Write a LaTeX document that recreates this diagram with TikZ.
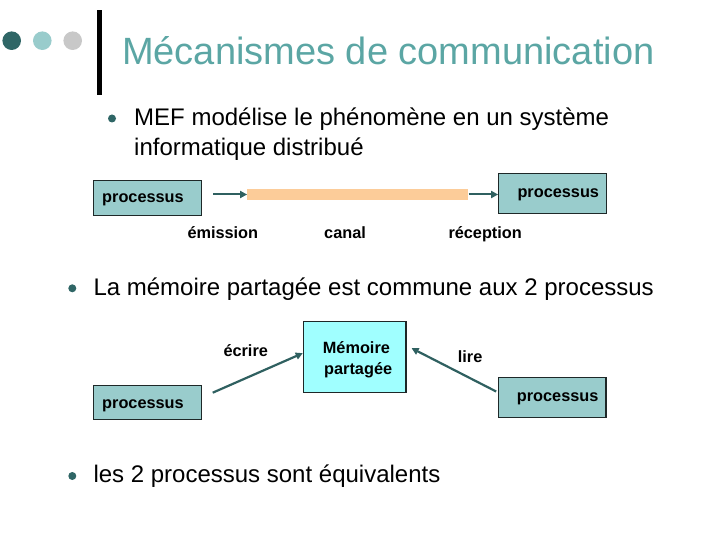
\documentclass[tikz,border=0pt]{standalone}
\usepackage{fontspec}
\setmainfont{Liberation Sans}
\usetikzlibrary{arrows.meta}
\definecolor{titlecol}{RGB}{91,166,164}
\definecolor{darkteal}{RGB}{47,102,102}
\definecolor{lightteal}{RGB}{153,204,204}
\definecolor{dotgray}{RGB}{200,200,200}
\definecolor{boxfill}{RGB}{153,204,204}
\definecolor{memfill}{RGB}{160,255,255}
\definecolor{canalcol}{RGB}{252,204,153}
\definecolor{arrcol}{RGB}{47,96,96}
\definecolor{boxline}{RGB}{30,40,40}
\tikzset{
  pbox/.style={draw=boxline, line width=1.1bp, fill=boxfill, inner sep=0pt},
  mbox/.style={draw=boxline, line width=1.1bp, fill=memfill, inner sep=0pt},
  lbl/.style={anchor=base west, inner sep=0pt, font=\fontsize{16.3bp}{19bp}\selectfont\bfseries},
  btxt/.style={anchor=base west, inner sep=0pt, font=\fontsize{24bp}{29bp}\selectfont},
  bdot/.style={circle, fill=darkteal, inner sep=0pt, minimum size=8bp},
  arr/.style={draw=arrcol, line width=2.2bp, -{Triangle[length=7bp,width=7bp]}},
}
\begin{document}
\begin{tikzpicture}[x=1bp,y=-1bp]
\useasboundingbox (0,0) rectangle (720,540);
% header decoration
\node[circle, fill=darkteal, inner sep=0pt, minimum size=18.6bp] (c1) at (11.7,40.7) {};
\node[circle, fill=lightteal, inner sep=0pt, minimum size=18.6bp] (c2) at (42.3,40.7) {};
\node[circle, fill=dotgray, inner sep=0pt, minimum size=18.6bp] (c3) at (72.7,40.7) {};
\fill[black] (97.3,10) rectangle (101.5,95);
\node[anchor=base west, inner sep=0pt, text=titlecol, font=\fontsize{38bp}{44bp}\selectfont] (title) at (122,65) {Mécanismes de communication};
% bullet 1
\node[bdot] (b1) at (112,118.5) {};
\node[btxt] (t1a) at (134,126) {MEF modélise le phénomène en un système};
\node[btxt] (t1b) at (134,155.5) {informatique distribué};
% diagram 1
\node[pbox, minimum width=108.4bp, minimum height=35bp] (p1) at (147.5,198.2) {};
\node[lbl] (p1t) at (102,203) {processus};
\node[fill=canalcol, inner sep=0pt, minimum width=221bp, minimum height=11bp] (canal) at (357.8,194.5) {};
\node[pbox, minimum width=108bp, minimum height=40bp] (p2) at (552.7,193.3) {};
\node[lbl] (p2t) at (517.3,198) {processus};
\coordinate (a1s) at (213.3,194.5);
\draw[arr, line width=2bp] (a1s) -- (canal.west);
\draw[arr, line width=2bp] (canal.east) -- (canal.east -| p2.west);
\node[lbl] (em) at (187.3,238.3) {émission};
\node[lbl] (ca) at (324,238.3) {canal};
\node[lbl] (re) at (448.3,238.3) {réception};
% bullet 2
\node[bdot] (b2) at (72.3,288.3) {};
\node[btxt] (t2) at (93.3,295) {La mémoire partagée est commune aux 2 processus};
% diagram 2
\node[mbox, minimum width=102.7bp, minimum height=71bp] (mem) at (354.65,357.2) {};
\node[lbl] (memt1) at (322.7,353.3) {Mémoire};
\node[lbl] (memt2) at (324,374.3) {partagée};
\node[pbox, minimum width=108.4bp, minimum height=33.6bp] (p3) at (147.5,402.5) {};
\node[lbl] (p3t) at (102,408) {processus};
\node[pbox, minimum width=107.7bp, minimum height=39.6bp] (p4) at (552.15,397.5) {};
\node[lbl] (p4t) at (516.7,401.7) {processus};
\coordinate (a3s) at (212.7,392.7);
\draw[arr] (a3s) -- ([yshift=4bp]mem.west);
\draw[arr] ([xshift=-1.6bp,yshift=6bp]p4.west) -- ([xshift=5bp,yshift=9bp]mem.east);
\node[lbl] (ec) at (223.3,356.7) {écrire};
\node[lbl] (li) at (457.7,362.7) {lire};
% bullet 3
\node[bdot] (b3) at (72.3,476) {};
\node[btxt] (t3) at (93.3,482) {les 2 processus sont équivalents};
\end{tikzpicture}
\end{document}
